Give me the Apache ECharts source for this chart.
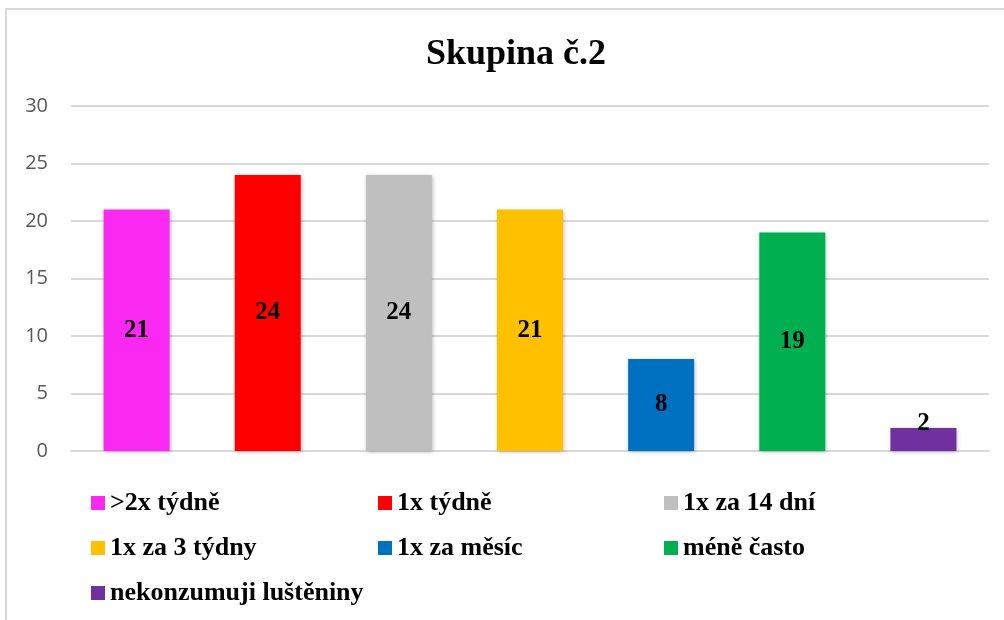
<!DOCTYPE html>
<html>
<head>
<meta charset="utf-8">
<script src="https://cdn.jsdelivr.net/npm/echarts@6/dist/echarts.min.js"></script>
<style>
  html, body { margin: 0; padding: 0; background: #fff; }
  #frame { position: absolute; left: 5px; top: 8px; width: 1100px; height: 700px; border: 2px solid #d9d9d9; }
  #chart { position: absolute; left: 0; top: 0; width: 1004px; height: 620px; }
</style>
</head>
<body>
<div id="frame"></div>
<div id="chart"></div>
<script>
// data
var categories = ['>2x týdně', '1x týdně', '1x za 14 dní', '1x za 3 týdny', '1x za měsíc', 'méně často', 'nekonzumuji luštěniny'];
var values = [21, 24, 24, 21, 8, 19, 2];
var colors = ['#fb28f1', '#ff0000', '#bfbfbf', '#ffc000', '#0070c0', '#00b050', '#7030a0'];
var yTicks = [0, 5, 10, 15, 20, 25, 30];

// legend layout (3 columns)
var legendCols = [91, 378, 664];
var legendRows = [490, 535, 580];

var serif = '"Liberation Serif", "Times New Roman", serif';

var chart = echarts.init(document.getElementById('chart'));

var series = [];
var legends = [];
for (var i = 0; i < categories.length; i++) {
    var d = [];
    for (var j = 0; j < categories.length; j++) {
        if (j == i) {
            var item = { value: values[i] };
            // small bar: label sits over the top edge
            if (values[i] < 4) {
                item.label = { position: 'top', distance: -8 };
            }
            d.push(item);
        } else {
            d.push('-');
        }
    }
    series.push({
        name: categories[i],
        type: 'bar',
        barWidth: 66,
        barGap: '-100%',
        data: d,
        itemStyle: {
            color: colors[i],
            shadowColor: 'rgba(0,0,0,0.25)',
            shadowBlur: 4,
            shadowOffsetX: 1,
            shadowOffsetY: 1
        },
        label: {
            show: true,
            position: 'inside',
            color: '#000',
            fontFamily: serif,
            fontWeight: 'bold',
            fontSize: 25
        }
    });
    legends.push({
        data: [categories[i]],
        left: legendCols[i % 3],
        top: legendRows[Math.floor(i / 3)],
        icon: 'rect',
        itemWidth: 14,
        itemHeight: 14,
        padding: 0,
        textStyle: {
            color: '#000',
            fontFamily: serif,
            fontWeight: 'bold',
            fontSize: 26
        }
    });
}

var option = {
    animation: false,
    title: {
        text: 'Skupina č.2',
        left: 421,
        top: 32,
        textStyle: {
            color: '#000',
            fontFamily: serif,
            fontWeight: 'bold',
            fontSize: 36
        }
    },
    legend: legends,
    grid: {
        left: 71,
        right: 15,
        top: 106,
        bottom: 169
    },
    xAxis: {
        type: 'category',
        data: categories,
        axisLine: { lineStyle: { color: '#d9d9d9', width: 2 } },
        axisTick: { show: false },
        axisLabel: { show: false }
    },
    yAxis: {
        type: 'value',
        min: yTicks[0],
        max: yTicks[yTicks.length - 1],
        interval: 5,
        axisLine: { show: false },
        axisTick: { show: false },
        axisLabel: {
            margin: 23,
            color: '#595959',
            fontFamily: '"Open Sans", "Liberation Sans", sans-serif',
            fontSize: 20
        },
        splitLine: { lineStyle: { color: '#d9d9d9', width: 2 } }
    },
    series: series
};

chart.setOption(option);
</script>
</body>
</html>
